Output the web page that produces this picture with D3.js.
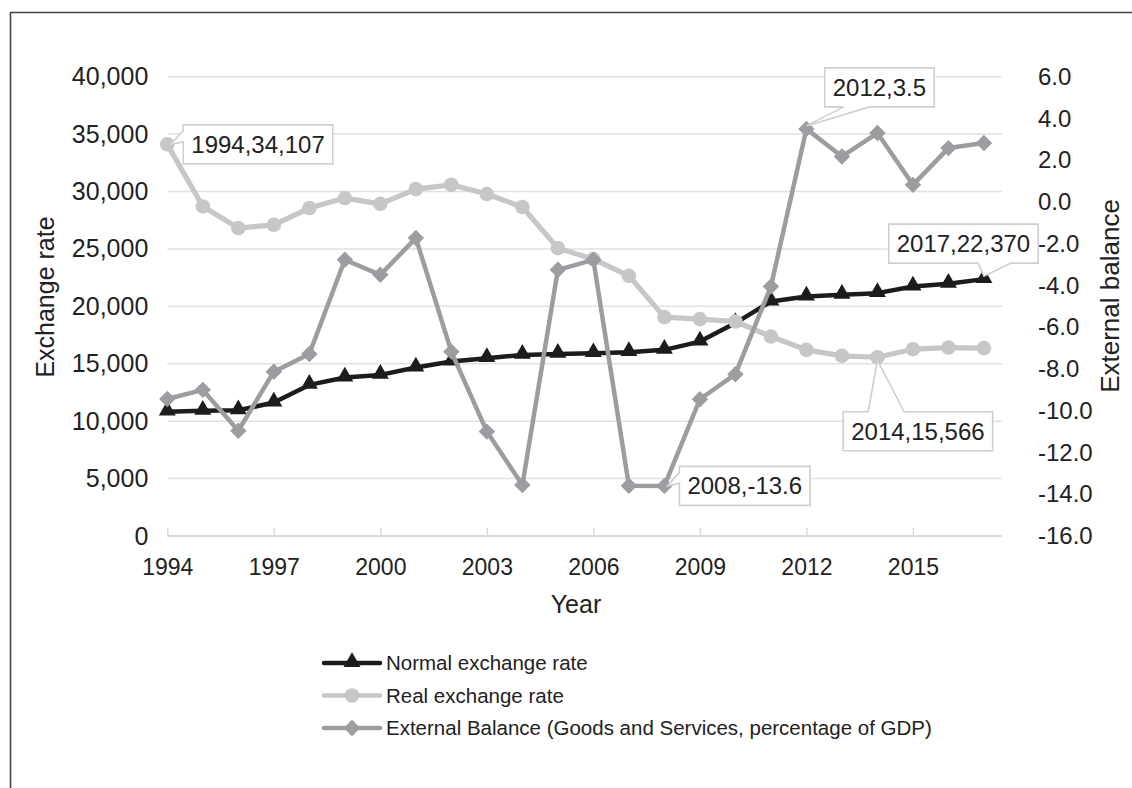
<!DOCTYPE html>
<html><head><meta charset="utf-8">
<script src="https://cdn.jsdelivr.net/npm/d3@7"></script>
<style>
html,body{margin:0;padding:0;background:#fff;}
svg{display:block;font-family:"Liberation Sans",Arial,sans-serif;}
</style></head>
<body><svg id="chart" width="1132" height="788"></svg>
<script>
const years = d3.range(1994, 2018);
const normalRate = [10830,10900,10950,11620,13160,13800,14030,14670,15190,15490,15770,15860,15920,16010,16210,16930,18540,20420,20860,21000,21150,21730,21960,22370];
const realRate = [34107,28700,26820,27100,28560,29430,28930,30210,30590,29780,28650,25070,24110,22660,19060,18890,18680,17370,16210,15690,15566,16270,16410,16360];
const externalBalance = [-9.44,-9.0,-10.96,-8.13,-7.28,-2.77,-3.49,-1.73,-7.17,-11.0,-13.56,-3.25,-2.77,-13.59,-13.6,-9.45,-8.25,-4.05,3.5,2.18,3.3,0.82,2.58,2.82];
const leftTicks = [0,5000,10000,15000,20000,25000,30000,35000,40000];
const rightTicks = [-16,-14,-12,-10,-8,-6,-4,-2,0,2,4,6];
const xTicks = [1994,1997,2000,2003,2006,2009,2012,2015];
const seriesNames = ["Normal exchange rate","Real exchange rate","External Balance (Goods and Services, percentage of GDP)"];

const svg = d3.select("#chart");
const X0 = 167.3, X1 = 1001.7, YT = 76.7, YB = 536;
const x = d3.scaleLinear().domain([1994, 2017.5]).range([X0, X1]);
const yL = d3.scaleLinear().domain([0, 40000]).range([YB, YT]);
const yR = d3.scaleLinear().domain([-16, 6]).range([YB, YT]);
const FF = "Liberation Sans, Arial, sans-serif";
const fmtOne = v => d3.format(".1f")(v).replace("\u2212","-");

// outer frame
svg.append("path").attr("d", "M10.5,788 L10.5,12.5 L1132,12.5")
  .attr("fill","none").attr("stroke","#444").attr("stroke-width",1.6);

// gridlines
svg.append("g").selectAll("line").data(leftTicks.filter(d=>d>0)).join("line")
  .attr("x1",X0).attr("x2",X1).attr("y1",d=>yL(d)).attr("y2",d=>yL(d))
  .attr("stroke","#e1e1e1").attr("stroke-width",1.5);

// left axis
const gL = svg.append("g").attr("transform",`translate(${X0-19},0)`)
  .call(d3.axisLeft(yL).tickValues(leftTicks).tickFormat(d3.format(",")).tickSize(0).tickPadding(0));
gL.select(".domain").remove();
gL.selectAll("text").attr("font-size",25).attr("fill","#222").attr("font-family",FF);

// right axis
const gR = svg.append("g").attr("transform",`translate(1038,0)`)
  .call(d3.axisRight(yR).tickValues(rightTicks).tickFormat(fmtOne).tickSize(0).tickPadding(0));
gR.select(".domain").remove();
gR.selectAll("text").attr("font-size",24).attr("fill","#222").attr("font-family",FF);

// x axis
const gX = svg.append("g").attr("transform",`translate(0,${YB})`)
  .call(d3.axisTop(x).tickValues(xTicks).tickFormat(d3.format("d")).tickSize(8));
gX.select(".domain").remove();
gX.selectAll("line").attr("stroke","#d9d9d9").attr("stroke-width",1.5);
gX.selectAll("text").attr("font-size",23).attr("fill","#222").attr("font-family",FF)
  .attr("y",39).attr("dy","0");
svg.append("line").attr("x1",X0).attr("x2",X1).attr("y1",YB).attr("y2",YB)
  .attr("stroke","#d9d9d9").attr("stroke-width",2.2);

// axis titles
svg.append("text").attr("transform","translate(54,297) rotate(-90)").attr("text-anchor","middle")
  .attr("font-size",25).attr("fill","#222").text("Exchange rate");
svg.append("text").attr("transform","translate(1119,296) rotate(-90)").attr("text-anchor","middle")
  .attr("font-size",26).attr("fill","#222").text("External balance");
svg.append("text").attr("x",576).attr("y",613).attr("text-anchor","middle")
  .attr("font-size",25).attr("fill","#222").text("Year");

const C_NORMAL = "#1c1c1c", C_REAL = "#c6c7c9", C_EXT = "#9c9da0";
const triangle = d3.symbol().type(d3.symbolTriangle).size(125);
const diamond = d3.symbol().type(d3.symbolSquare).size(135);

function drawSeries(vals, yS, color, width, markerFn){
  const pts = years.map((yr,i)=>[x(yr), yS(vals[i])]);
  svg.append("path").datum(pts).attr("d", d3.line()).attr("fill","none")
    .attr("stroke",color).attr("stroke-width",width).attr("stroke-linejoin","round");
  const g = svg.append("g");
  pts.forEach(p=>markerFn(g,p));
  return pts;
}
const ptsN = drawSeries(normalRate, yL, C_NORMAL, 4.5, (g,p)=>g.append("path").attr("d",triangle)
  .attr("transform",`translate(${p[0]},${p[1]-1})`).attr("fill",C_NORMAL));
const ptsR = drawSeries(realRate, yL, C_REAL, 5.2, (g,p)=>g.append("circle").attr("cx",p[0]).attr("cy",p[1]).attr("r",7.3).attr("fill",C_REAL));
const ptsE = drawSeries(externalBalance, yR, C_EXT, 4.5, (g,p)=>g.append("path").attr("d",diamond)
  .attr("transform",`translate(${p[0]},${p[1]}) rotate(45)`).attr("fill",C_EXT));

// callouts
const fmtC = d3.format(",");
const callouts = [
  {pts:ptsR, year:1994, label:`1994,${fmtC(realRate[0])}`, side:"left", bx:16, by:0},
  {pts:ptsE, year:2012, label:`2012,${fmtOne(externalBalance[18])}`, side:"bottom", bx:73, by:-41.5},
  {pts:ptsN, year:2017, label:`2017,${fmtC(normalRate[23])}`, side:"bottom", bx:-20.5, by:-35.5},
  {pts:ptsR, year:2014, label:`2014,${fmtC(realRate[20])}`, side:"top", bx:40.5, by:74},
  {pts:ptsE, year:2008, label:`2008,${fmtOne(externalBalance[14])}`, side:"left", bx:15, by:0}
];
const H = 39;
const cg = svg.append("g");
callouts.forEach(c=>{
  const p = c.pts[years.indexOf(c.year)];
  const g = cg.append("g");
  const shape = g.append("path");
  const t = g.append("text").attr("font-size",24).attr("fill","#222").attr("text-anchor","middle").attr("font-family",FF).text(c.label);
  const w = t.node().getComputedTextLength() + 16;
  let cx, cy;
  if (c.side==="left"){ cx = p[0]+c.bx+w/2; cy = p[1]+c.by; }
  else { cx = p[0]+c.bx; cy = p[1]+c.by; }
  const L = cx-w/2, R = cx+w/2, T = cy-H/2, B = cy+H/2;
  let d;
  if (c.side==="left"){
    d = `M${L},${T} L${R},${T} L${R},${B} L${L},${B} L${L},${T+17} L${p[0]+3},${p[1]} L${L},${T+6} Z`;
  } else if (c.side==="bottom"){
    const b0 = c.year===2012 ? L+19 : p[0]-6, b1 = c.year===2012 ? L+45 : p[0]+27;
    d = `M${L},${T} L${R},${T} L${R},${B} L${b1},${B} L${p[0]},${p[1]-3} L${b0},${B} L${L},${B} Z`;
  } else {
    const b0 = L+25, b1 = L+61;
    d = `M${L},${T} L${b0},${T} L${p[0]},${p[1]+3} L${b1},${T} L${R},${T} L${R},${B} L${L},${B} Z`;
  }
  shape.attr("d",d).attr("fill","#fff").attr("stroke","#cfcfcf").attr("stroke-width",1.6);
  t.attr("x",cx).attr("y",cy+8.5);
});

// legend
const legend = svg.append("g");
const lg = [
  {name:seriesNames[0], color:C_NORMAL, m:"tri"},
  {name:seriesNames[1], color:C_REAL, m:"circ"},
  {name:seriesNames[2], color:C_EXT, m:"dia"}
];
lg.forEach((s,i)=>{
  const yy = 663 + i*32.5;
  legend.append("line").attr("x1",324).attr("x2",380).attr("y1",yy).attr("y2",yy)
    .attr("stroke",s.color).attr("stroke-width",4.5).attr("stroke-linecap","round");
  if (s.m==="tri") legend.append("path").attr("d",triangle).attr("transform",`translate(352,${yy-1})`).attr("fill",s.color);
  if (s.m==="circ") legend.append("circle").attr("cx",352).attr("cy",yy).attr("r",7.3).attr("fill",s.color);
  if (s.m==="dia") legend.append("path").attr("d",diamond).attr("transform",`translate(352,${yy}) rotate(45)`).attr("fill",s.color);
  legend.append("text").attr("x",386).attr("y",yy+7).attr("font-size",20.5).attr("fill","#222").attr("font-family",FF).text(s.name);
});
</script></body></html>
